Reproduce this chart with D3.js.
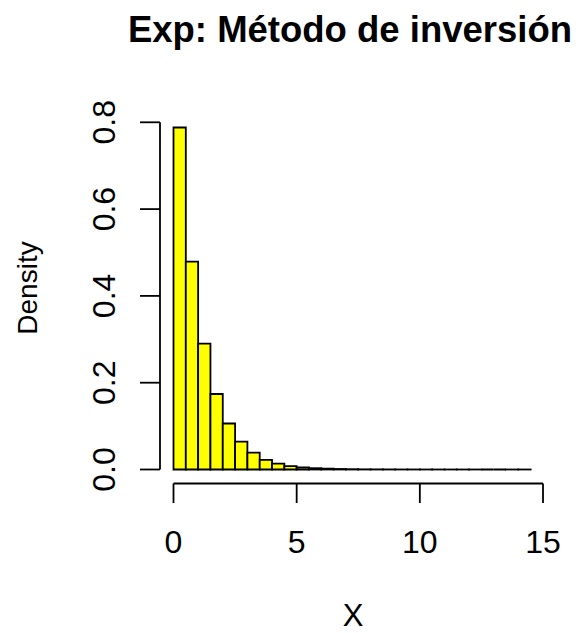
<!DOCTYPE html>
<html>
<head>
<meta charset="utf-8">
<script src="https://cdn.jsdelivr.net/npm/d3@7"></script>
<style>
  html, body { margin: 0; padding: 0; background: #fff; }
  svg { display: block; }
  text { font-family: "Liberation Sans", Arial, Helvetica, sans-serif; fill: #000; }
</style>
</head>
<body>
<svg id="chart" width="582" height="633"></svg>
<script>
// Histogram of simulated exponential draws (bin width 0.5)
const binStarts = d3.range(0, 14.5, 0.5);
const densities = [
  0.788, 0.479, 0.290, 0.174, 0.106, 0.064, 0.039, 0.022, 0.0134, 0.008,
  0.005, 0.003, 0.002, 0.0012, 0.0007, 0.0004, 0.0003, 0.0002, 0.0001, 0.0001,
  0.00005, 0.00003, 0.00002, 0.00001, 0.00001, 0, 0, 0.00001, 0.00001
];
const binWidth = 0.5;
const xTicks = [0, 5, 10, 15];
const yTicks = [0.0, 0.2, 0.4, 0.6, 0.8];
const titleText = "Exp: Método de inversión";
const xLabel = "X";
const yLabel = "Density";

const svg = d3.select("#chart");

const x = d3.scaleLinear().domain([0, 15]).range([173.5, 543]);
const y = d3.scaleLinear().domain([0, 0.8]).range([469.5, 122.3]);

// bars as closed paths so that empty bins still show their outline
function barPath(d) {
  const p = d3.path();
  const x0 = x(d.x0), x1 = x(d.x1), y0 = y(0), y1 = y(d.d);
  p.moveTo(x0, y0);
  p.lineTo(x0, y1);
  p.lineTo(x1, y1);
  p.lineTo(x1, y0);
  p.closePath();
  return p.toString();
}

svg.append("g")
  .selectAll("path")
  .data(binStarts.map((s, i) => ({ x0: s, x1: s + binWidth, d: densities[i] })))
  .join("path")
  .attr("d", barPath)
  .attr("fill", "#ffff00")
  .attr("stroke", "#000")
  .attr("stroke-width", 1.8);

// x axis
const xAxis = svg.append("g").attr("transform", "translate(0,483.5)");
xAxis.append("line")
  .attr("x1", x(0)).attr("x2", x(15))
  .attr("stroke", "#000").attr("stroke-width", 1.8);
xAxis.selectAll("line.tick")
  .data(xTicks).join("line").attr("class", "tick")
  .attr("x1", d => x(d)).attr("x2", d => x(d))
  .attr("y1", 0).attr("y2", 19.5)
  .attr("stroke", "#000").attr("stroke-width", 1.8);
xAxis.selectAll("text")
  .data(xTicks).join("text")
  .attr("x", d => x(d)).attr("y", 69.5)
  .attr("text-anchor", "middle")
  .attr("font-size", 32)
  .text(d => d);

// y axis
const yAxis = svg.append("g").attr("transform", "translate(160,0)");
yAxis.append("line")
  .attr("y1", y(0)).attr("y2", y(0.8))
  .attr("stroke", "#000").attr("stroke-width", 1.8);
yAxis.selectAll("line.tick")
  .data(yTicks).join("line").attr("class", "tick")
  .attr("y1", d => y(d)).attr("y2", d => y(d))
  .attr("x1", -20).attr("x2", 0)
  .attr("stroke", "#000").attr("stroke-width", 1.8);
yAxis.selectAll("text")
  .data(yTicks).join("text")
  .attr("transform", d => `translate(-45,${y(d)}) rotate(-90)`)
  .attr("text-anchor", "middle")
  .attr("font-size", 32)
  .text(d => d.toFixed(1));

// title and axis labels
svg.append("text")
  .attr("x", 350).attr("y", 42)
  .attr("text-anchor", "middle")
  .attr("font-size", 36.5)
  .attr("font-weight", "bold")
  .text(titleText);

svg.append("text")
  .attr("x", 353).attr("y", 626)
  .attr("text-anchor", "middle")
  .attr("font-size", 31)
  .text(xLabel);

svg.append("text")
  .attr("transform", "translate(36.7,288) rotate(-90)")
  .attr("text-anchor", "middle")
  .attr("font-size", 28)
  .text(yLabel);
</script>
</body>
</html>
